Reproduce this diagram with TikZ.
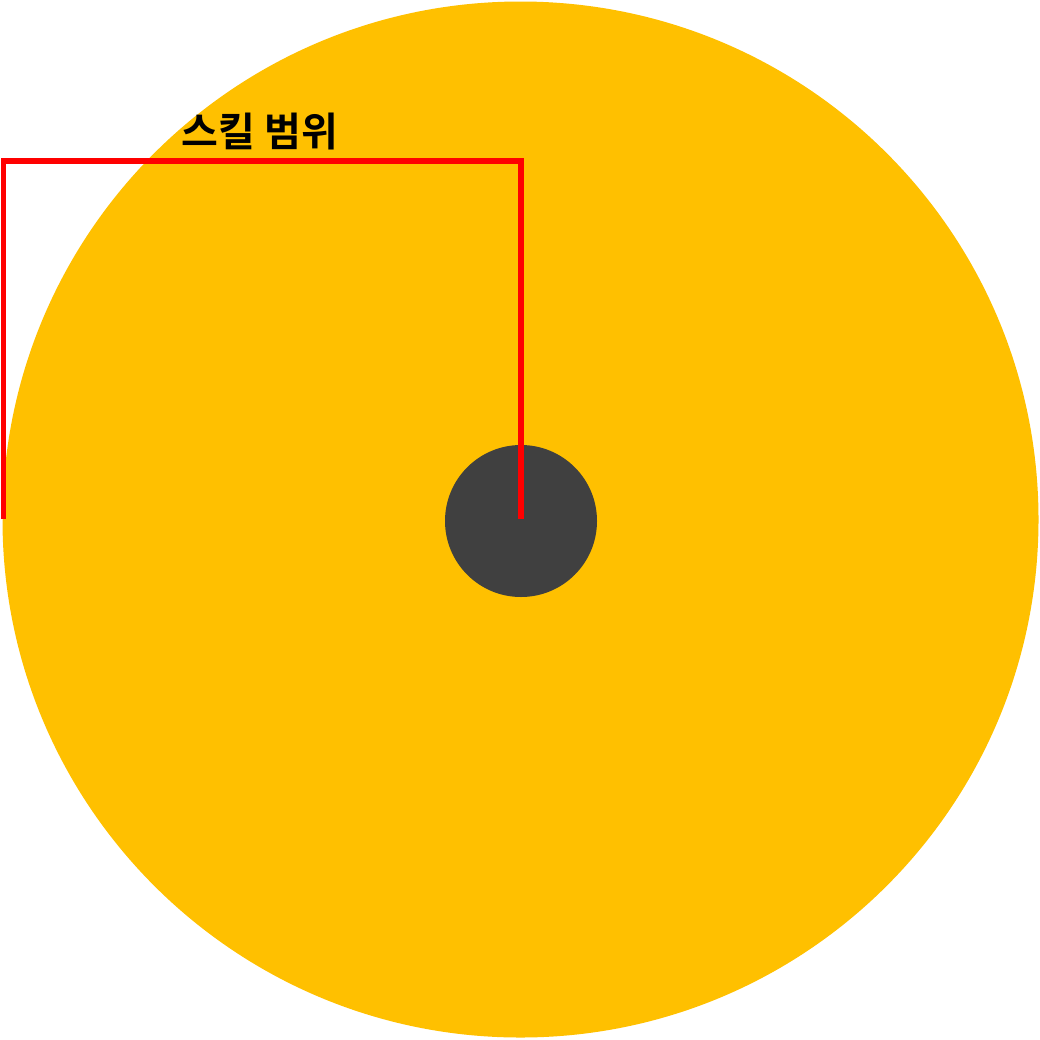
\documentclass[tikz,border=0pt]{standalone}
\usepackage{fontspec}
\newfontfamily\kr{Noto Sans CJK KR}[BoldFont={Noto Sans CJK KR Bold}]
\definecolor{gold}{HTML}{FFC000}
\definecolor{core}{HTML}{404040}
\definecolor{rangered}{HTML}{FF0000}
\begin{document}
\begin{tikzpicture}[x=1pt,y=-1pt,
  rangeline/.style={draw=rangered,line width=5.5pt}]
\useasboundingbox (0,0) rectangle (1040,1039);
\fill[gold] (520.5,519.5) circle[radius=518];
\node[circle,fill=core,minimum size=152pt,inner sep=0pt] (core) at (521,521) {};
\coordinate (bl) at (3.5,519);
\coordinate (tl) at (3.5,161);
\coordinate (tr) at (521,161);
\coordinate (cc) at (521,519);
\draw[rangeline] (bl) -- (tl) -- (tr) -- (cc);
\node[font=\kr\bfseries\fontsize{40}{44}\selectfont,inner sep=0pt] (label) at (260,131.5) {스킬 범위};
\end{tikzpicture}
\end{document}
